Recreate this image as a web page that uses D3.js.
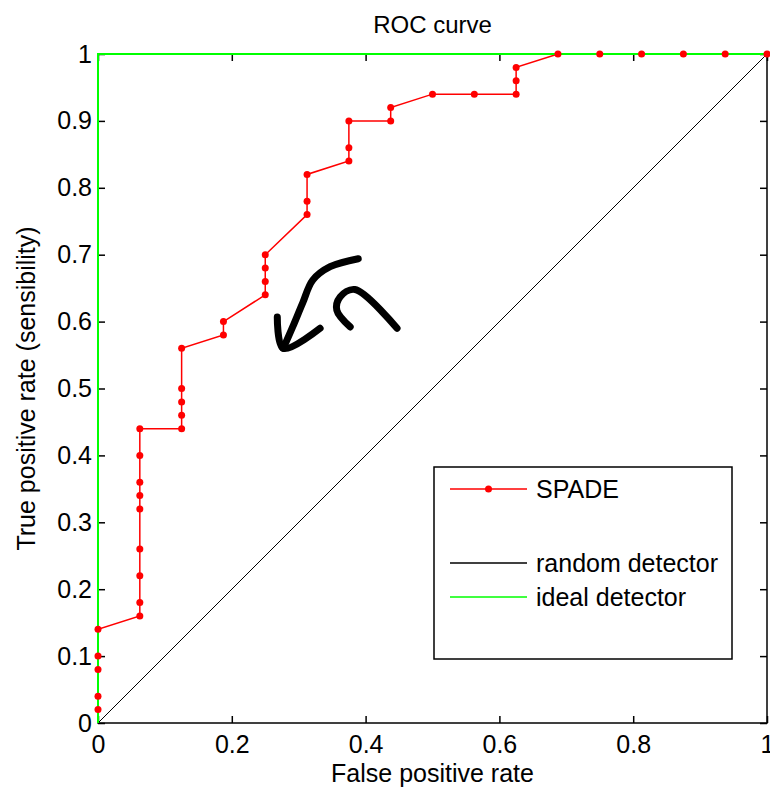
<!DOCTYPE html>
<html>
<head>
<meta charset="utf-8">
<script src="https://cdn.jsdelivr.net/npm/d3@7"></script>
<style>
  body { margin: 0; background: #fff; }
  text { font-family: "Liberation Sans", Arial, sans-serif; fill: #000; }
</style>
</head>
<body>
<div id="chart"></div>
<script>
// ROC data
var spadeFpr = [0, 0, 0, 0, 0,
  0.0625, 0.0625, 0.0625, 0.0625, 0.0625, 0.0625, 0.0625, 0.0625, 0.0625,
  0.125, 0.125, 0.125, 0.125, 0.125,
  0.1875, 0.1875,
  0.25, 0.25, 0.25, 0.25,
  0.3125, 0.3125, 0.3125,
  0.375, 0.375, 0.375,
  0.4375, 0.4375,
  0.5, 0.5625,
  0.625, 0.625, 0.625,
  0.6875, 0.75, 0.8125, 0.875, 0.9375, 1];
var spadeTpr = [0.02, 0.04, 0.08, 0.10, 0.14,
  0.16, 0.18, 0.22, 0.26, 0.32, 0.34, 0.36, 0.40, 0.44,
  0.44, 0.46, 0.48, 0.50, 0.56,
  0.58, 0.60,
  0.64, 0.66, 0.68, 0.70,
  0.76, 0.78, 0.82,
  0.84, 0.86, 0.90,
  0.90, 0.92,
  0.94, 0.94,
  0.94, 0.96, 0.98,
  1, 1, 1, 1, 1, 1];

var randomX = [0, 1];
var randomY = [0, 1];
var idealX = [0, 0, 1];
var idealY = [0, 1, 1];

var xTicks = [0, 0.2, 0.4, 0.6, 0.8, 1];
var yTicks = [0, 0.1, 0.2, 0.3, 0.4, 0.5, 0.6, 0.7, 0.8, 0.9, 1];
var xTickLabels = ["0", "0.2", "0.4", "0.6", "0.8", "1"];
var yTickLabels = ["0", "0.1", "0.2", "0.3", "0.4", "0.5", "0.6", "0.7", "0.8", "0.9", "1"];

var legendNames = ["SPADE", "random detector", "ideal detector"];

// the hand-drawn arrow on the picture, in data units
var doodleArrow = [[0.389, 0.694], [0.347, 0.682], [0.321, 0.662], [0.306, 0.628], [0.291, 0.592], [0.277, 0.560]];
var doodleHead = [[0.268, 0.607], [0.277, 0.560], [0.332, 0.590]];
var doodleHook = [[0.377, 0.592], [0.357, 0.617], [0.362, 0.637], [0.384, 0.648], [0.447, 0.590]];

// Setup
var width = 770, height = 790;
var plotLeft = 98, plotRight = 767, plotTop = 54, plotBottom = 723;

var svg = d3.select("#chart").append("svg")
  .attr("width", width)
  .attr("height", height);

var x = d3.scaleLinear().domain([0, 1]).range([plotLeft, plotRight]);
var y = d3.scaleLinear().domain([0, 1]).range([plotBottom, plotTop]);

// box
svg.append("rect")
  .attr("x", plotLeft).attr("y", plotTop)
  .attr("width", plotRight - plotLeft).attr("height", plotBottom - plotTop)
  .attr("fill", "none").attr("stroke", "#000").attr("stroke-width", 1.5);

// axes with inward ticks
function styleAxis(g) {
  g.select(".domain").remove();
  g.selectAll(".tick line").attr("stroke", "#000").attr("stroke-width", 1.5);
  g.selectAll(".tick text").style("font-size", "25px").attr("fill", "#000");
}
svg.append("g")
  .attr("transform", "translate(0," + plotBottom + ")")
  .call(d3.axisBottom(x).tickValues(xTicks).tickSize(-7).tickPadding(12)
    .tickFormat(function(d, i) { return xTickLabels[i]; }))
  .call(styleAxis);
svg.append("g")
  .attr("transform", "translate(0," + plotTop + ")")
  .call(d3.axisTop(x).tickValues(xTicks).tickSize(-7).tickFormat(""))
  .call(styleAxis);
svg.append("g")
  .attr("transform", "translate(" + plotLeft + ",0)")
  .call(d3.axisLeft(y).tickValues(yTicks).tickSize(-7).tickPadding(6)
    .tickFormat(function(d, i) { return yTickLabels[i]; }))
  .call(styleAxis);
svg.append("g")
  .attr("transform", "translate(" + plotRight + ",0)")
  .call(d3.axisRight(y).tickValues(yTicks).tickSize(-7).tickFormat(""))
  .call(styleAxis);

var line = d3.line()
  .x(function(d) { return x(d[0]); })
  .y(function(d) { return y(d[1]); });

// random detector
svg.append("path")
  .datum(d3.zip(randomX, randomY))
  .attr("d", line)
  .attr("fill", "none").attr("stroke", "#000").attr("stroke-width", 1);

// SPADE curve
var spade = d3.zip(spadeFpr, spadeTpr);
svg.append("path")
  .datum(spade)
  .attr("d", line)
  .attr("fill", "none").attr("stroke", "#ff0000").attr("stroke-width", 1.5);

// ideal detector
svg.append("path")
  .datum(d3.zip(idealX, idealY))
  .attr("d", line)
  .attr("fill", "none").attr("stroke", "#00ff00").attr("stroke-width", 2);

svg.selectAll("circle.spade")
  .data(spade)
  .enter().append("circle")
  .attr("class", "spade")
  .attr("cx", function(d) { return x(d[0]); })
  .attr("cy", function(d) { return y(d[1]); })
  .attr("r", 3.5)
  .attr("fill", "#ff0000");

// hand-drawn arrow
[doodleArrow, doodleHead, doodleHook].forEach(function(pts) {
  svg.append("path")
    .datum(pts)
    .attr("d", d3.line().curve(d3.curveCatmullRom)
      .x(function(d) { return x(d[0]); })
      .y(function(d) { return y(d[1]); }))
    .attr("fill", "none").attr("stroke", "#000")
    .attr("stroke-width", 7).attr("stroke-linecap", "round").attr("stroke-linejoin", "round");
});

// titles
svg.append("text")
  .attr("x", (plotLeft + plotRight) / 2).attr("y", 33)
  .attr("text-anchor", "middle").style("font-size", "24px")
  .text("ROC curve");
svg.append("text")
  .attr("x", (plotLeft + plotRight) / 2).attr("y", 782)
  .attr("text-anchor", "middle").style("font-size", "25px")
  .text("False positive rate");
svg.append("text")
  .attr("transform", "translate(35," + ((plotTop + plotBottom) / 2) + ") rotate(-90)")
  .attr("text-anchor", "middle").style("font-size", "25px")
  .text("True positive rate (sensibility)");

// legend
var legend = svg.append("g");
legend.append("rect")
  .attr("x", 434).attr("y", 467).attr("width", 298).attr("height", 192)
  .attr("fill", "#fff").attr("stroke", "#000").attr("stroke-width", 1.5);
var legendRows = [
  { name: legendNames[0], color: "#ff0000", y: 489, marker: true },
  { name: legendNames[1], color: "#000", y: 563, marker: false },
  { name: legendNames[2], color: "#00ff00", y: 597, marker: false }
];
legendRows.forEach(function(r) {
  legend.append("line")
    .attr("x1", 450).attr("x2", 527).attr("y1", r.y).attr("y2", r.y)
    .attr("stroke", r.color).attr("stroke-width", 1.5);
  if (r.marker) {
    legend.append("circle").attr("cx", 488.5).attr("cy", r.y).attr("r", 3.5).attr("fill", r.color);
  }
  legend.append("text")
    .attr("x", 536).attr("y", r.y + 9)
    .style("font-size", "25px")
    .text(r.name);
});
</script>
</body>
</html>
